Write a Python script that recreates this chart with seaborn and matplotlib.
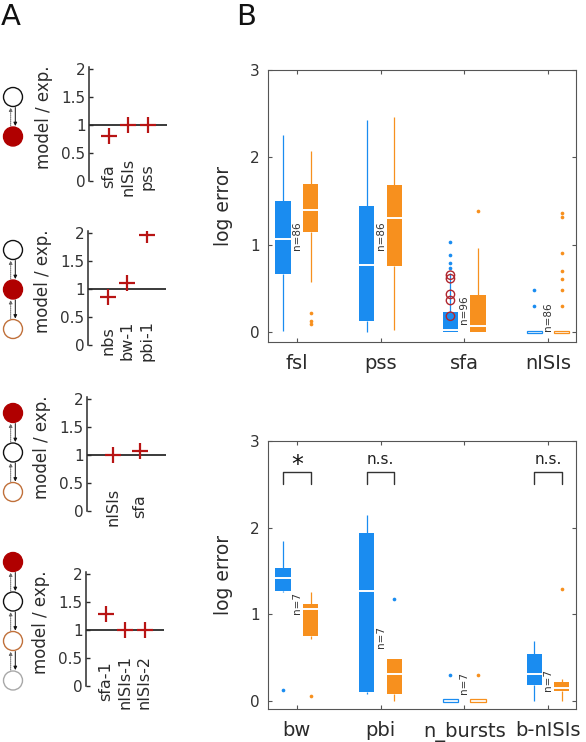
import numpy as np
import pandas as pd
import matplotlib
matplotlib.use("Agg")
import matplotlib.pyplot as plt
from matplotlib.patches import Circle
import seaborn as sns

sns.set_theme(style="white")
plt.rcParams["font.family"] = ["DejaVu Sans"]

# ---------------- data ----------------
# Panel A: model / experiment ratios
a1_labels = ["sfa", "nISIs", "pss"]
a1_values = [0.80, 1.00, 1.00]
a2_labels = ["nbs", "bw-1", "pbi-1"]
a2_values = [0.85, 1.11, 1.96]
a3_labels = ["nISIs", "sfa"]
a3_values = [1.00, 1.06]
a4_labels = ["sfa-1", "nISIs-1", "nISIs-2"]
a4_values = [1.28, 1.00, 1.00]

# Panel B top: five-number summaries [whisker low, q1, median, q3, whisker high]
top_cats = ["fsl", "pss", "sfa", "nISIs"]
top_blue = [[0.01, 0.66, 1.07, 1.50, 2.26],
            [0.00, 0.13, 0.77, 1.44, 2.43],
            [0.00, 0.00, 0.02, 0.225, 0.68],
            [-0.015, -0.015, 0.0, 0.015, 0.015]]
top_orange = [[0.57, 1.15, 1.40, 1.69, 2.07],
              [0.02, 0.76, 1.30, 1.68, 2.46],
              [0.00, 0.00, 0.065, 0.42, 0.96],
              [-0.015, -0.015, 0.0, 0.015, 0.015]]
top_blue_fliers = [[], [], [0.73, 0.79, 0.88, 1.03], [0.30, 0.48]]
top_orange_fliers = [[0.09, 0.12, 0.22], [], [1.38], [0.30, 0.48, 0.61, 0.70, 0.90, 1.32, 1.36]]
top_n = ["n=86", "n=86", "n=96", "n=86"]
top_n_y = [1.10, 1.10, 0.25, 0.17]
sfa_marked = [0.18, 0.36, 0.43, 0.61, 0.65]

# Panel B bottom
bot_cats = ["bw", "pbi", "n_bursts", "b-nISIs"]
bot_blue = [[1.26, 1.27, 1.42, 1.53, 1.85],
            [0.08, 0.10, 1.27, 1.94, 2.14],
            [-0.015, -0.015, 0.0, 0.015, 0.015],
            [0.00, 0.18, 0.31, 0.535, 0.69]]
bot_orange = [[0.71, 0.75, 1.055, 1.12, 1.26],
              [0.00, 0.077, 0.31, 0.485, 0.485],
              [-0.015, -0.015, 0.0, 0.015, 0.015],
              [0.00, 0.11, 0.15, 0.22, 0.25]]
bot_blue_fliers = [[0.12], [], [0.30], []]
bot_orange_fliers = [[0.055], [], [0.30], [1.29]]
bot_stray_blue = [[], [1.18], [], []]   # blue dot drawn at the orange position
bot_n = ["n=7", "n=7", "n=7", "n=7"]
bot_n_y = [1.13, 0.73, 0.21, 0.24]
sig_cats = [0, 1, 3]
sig_text = ["*", "n.s.", "n.s."]

models = ["model 1", "model 2"]
BLUE = "#1a8cf0"
ORANGE = "#f7901e"
RED = "#b81414"
DARK = "#2b2b2b"

W, H = 586, 742
fig = plt.figure(figsize=(W / 100, H / 100), dpi=100)


def fr(left, top, right, bottom):
    return [left / W, 1 - bottom / H, (right - left) / W, (bottom - top) / H]


# ---------------- network diagrams ----------------
axd = fig.add_axes([0, 0, 1, 1], zorder=-1)
axd.set_xlim(0, W)
axd.set_ylim(H, 0)
axd.axis("off")
node_styles = {"k": ("white", "#111111"), "r": ("#b00000", "#b00000"),
               "o": ("white", "#c0703a"), "g": ("white", "#a8a8a8")}
diagrams = [["k", "r"], ["k", "r", "o"], ["r", "k", "o"], ["r", "k", "o", "g"]]
diagram_top = [97, 250, 413, 562]
spacing, rad, cx = 39.5, 9.5, 13
for nodes, top in zip(diagrams, diagram_top):
    ys = [top + i * spacing for i in range(len(nodes))]
    for n, y in zip(nodes, ys):
        fc, ec = node_styles[n]
        axd.add_patch(Circle((cx, y), rad, facecolor=fc, edgecolor=ec, lw=1.0))
    for y1, y2 in zip(ys[:-1], ys[1:]):
        a, b = y1 + rad + 1, y2 - rad - 1
        axd.annotate("", xy=(cx - 2.3, a), xytext=(cx - 2.3, b),
                     arrowprops=dict(arrowstyle="-|>", lw=0.7, ls=(0, (1, 1)), color="#666666",
                                     mutation_scale=5, shrinkA=0, shrinkB=0))
        axd.annotate("", xy=(cx + 2.3, b), xytext=(cx + 2.3, a),
                     arrowprops=dict(arrowstyle="-|>", lw=0.7, color="#111111",
                                     mutation_scale=5, shrinkA=0, shrinkB=0))

# ---------------- panel A ----------------
a_sets = [(a1_labels, a1_values, fr(89, 67, 167, 181)),
          (a2_labels, a2_values, fr(88, 231, 166, 345)),
          (a3_labels, a3_values, fr(87, 397, 166, 511)),
          (a4_labels, a4_values, fr(86, 572, 164, 686))]
for labels, vals, rect in a_sets:
    ax = fig.add_axes(rect)
    pos = list(range(1, len(labels) + 1))
    ax.axhline(1, color=DARK, lw=1.3, zorder=1)
    sns.scatterplot(x=pos, y=vals, marker="+", s=120, color=RED, linewidth=1.6, ax=ax, zorder=3)
    ax.set_xlim(0, len(labels) + 1)
    ax.set_ylim(0, 2.03)
    for p, lab in zip(pos, labels):
        ax.text(p, 0.08, lab, rotation=90, ha="center", va="center", fontsize=11.5, color=DARK)
    for s in ["top", "right", "bottom"]:
        ax.spines[s].set_visible(False)
    ax.spines["left"].set_color(DARK)
    ax.spines["left"].set_linewidth(1.1)
    ax.set_xticks([])
    ax.set_yticks([0, 0.5, 1, 1.5, 2], ["0", "0.5", "1", "1.5", "2"])
    ax.tick_params(axis="y", direction="in", length=3, width=1, color=DARK, pad=2.5,
                   labelsize=11, labelcolor="#333333", left=True)
    ax.set_ylabel("model / exp.", fontsize=12, color=DARK)
    ax.yaxis.set_label_coords(-0.46, 0.56)
    ax.patch.set_alpha(0)

# ---------------- panel B ----------------
def box_panel(rect, cats, blue, orange, bfl, ofl, ntext, ny, ylow):
    ax = fig.add_axes(rect)
    rows = []
    for c, b, o in zip(cats, blue, orange):
        rows += [(c, models[0], v) for v in b]
        rows += [(c, models[1], v) for v in o]
    df = pd.DataFrame(rows, columns=["cat", "model", "val"])
    sns.boxplot(data=df, x="cat", y="val", hue="model", order=cats, hue_order=models,
                palette=[BLUE, ORANGE], saturation=1, width=0.66, gap=0.45,
                whis=(0, 100), showfliers=False, showcaps=False, linewidth=0.8,
                medianprops={"color": "white", "linewidth": 1.4},
                legend=False, ax=ax)
    # box centers, in plot order
    info = []
    for p in ax.patches:
        v = p.get_path().vertices
        v = p.get_transform().transform(v)
        v = ax.transData.inverted().transform(v)
        info.append(((v[:, 0].min() + v[:, 0].max()) / 2, v[:, 1].min(), v[:, 1].max(), p))
    info.sort(key=lambda t: t[0])
    centers = [t[0] for t in info]
    hollow = []
    for i, (c, y0, y1, p) in enumerate(info):
        col = BLUE if i % 2 == 0 else ORANGE
        if y1 - y0 < 0.05:
            p.set_facecolor("white")
            p.set_edgecolor(col)
            p.set_linewidth(0.9)
            hollow.append(c)
        else:
            p.set_facecolor(col)
            p.set_linewidth(0)
    for ln in ax.lines:
        xd, yd = np.asarray(ln.get_xdata(), float), np.asarray(ln.get_ydata(), float)
        xm = xd.mean()
        k = int(np.argmin([abs(xm - c) for c in centers]))
        col = BLUE if k % 2 == 0 else ORANGE
        if np.allclose(xd, xd[0]):  # whisker
            ln.set_color(col)
            ln.set_linewidth(0.9)
        else:  # median
            if any(abs(xm - h) < 1e-6 for h in hollow):
                ln.set_visible(False)
    for i in range(len(cats)):
        for j, (fl, col) in enumerate([(bfl[i], BLUE), (ofl[i], ORANGE)]):
            if fl:
                sns.scatterplot(x=[centers[2 * i + j]] * len(fl), y=fl, color=col, s=7,
                                linewidth=0, ax=ax, zorder=3)
        ax.text(i, ny[i], ntext[i], rotation=90, ha="center", va="center",
                fontsize=7.5, color="#333333")
    ax.set_xlim(-0.345, 3.335)
    ax.set_ylim(ylow, 3.0)
    ax.set_yticks([0, 1, 2, 3])
    ax.set_xticks(range(len(cats)), cats)
    ax.set_xlabel("")
    ax.set_ylabel("log error", fontsize=13.5, color=DARK)
    ax.yaxis.set_label_coords(-0.114, 0.5)
    for s in ax.spines.values():
        s.set_visible(True)
        s.set_color("#555555")
        s.set_linewidth(0.8)
    ax.tick_params(axis="x", direction="in", length=3, width=0.8, color="#555555",
                   top=True, bottom=True, labelsize=14, pad=9, labelcolor=DARK)
    ax.tick_params(axis="y", direction="in", length=3, width=0.8, color="#555555",
                   left=True, right=True, labelsize=11, pad=6, labelcolor="#333333")
    return ax, centers


axt, ct = box_panel(fr(268, 70, 576, 342), top_cats, top_blue, top_orange,
                    top_blue_fliers, top_orange_fliers, top_n, top_n_y, -0.115)
axt.scatter([ct[4]] * len(sfa_marked), sfa_marked, s=36, facecolors="none",
            edgecolors="#b0262e", linewidths=1.0, zorder=4)

axb, cb = box_panel(fr(268, 441, 576, 709), bot_cats, bot_blue, bot_orange,
                    bot_blue_fliers, bot_orange_fliers, bot_n, bot_n_y, -0.096)
for i, pts in enumerate(bot_stray_blue):
    if pts:
        sns.scatterplot(x=[cb[2 * i + 1]] * len(pts), y=pts, color=BLUE, s=7,
                        linewidth=0, ax=axb, zorder=3)
for i, t in zip(sig_cats, sig_text):
    x0, x1 = cb[2 * i], cb[2 * i + 1]
    axb.plot([x0, x0, x1, x1], [2.50, 2.64, 2.64, 2.50], color="#333333", lw=1.0)
    if t == "*":
        axb.text(i, 2.72, t, ha="center", va="center", fontsize=17, color="#111111")
    else:
        axb.text(i, 2.79, t, ha="center", va="center", fontsize=11, color="#222222")

fig.text(1 / W, 1 - 3 / H, "A", fontsize=21, ha="left", va="top", color="#111111")
fig.text(236 / W, 1 - 3 / H, "B", fontsize=21, ha="left", va="top", color="#111111")

fig.savefig("out.png", dpi=100)
